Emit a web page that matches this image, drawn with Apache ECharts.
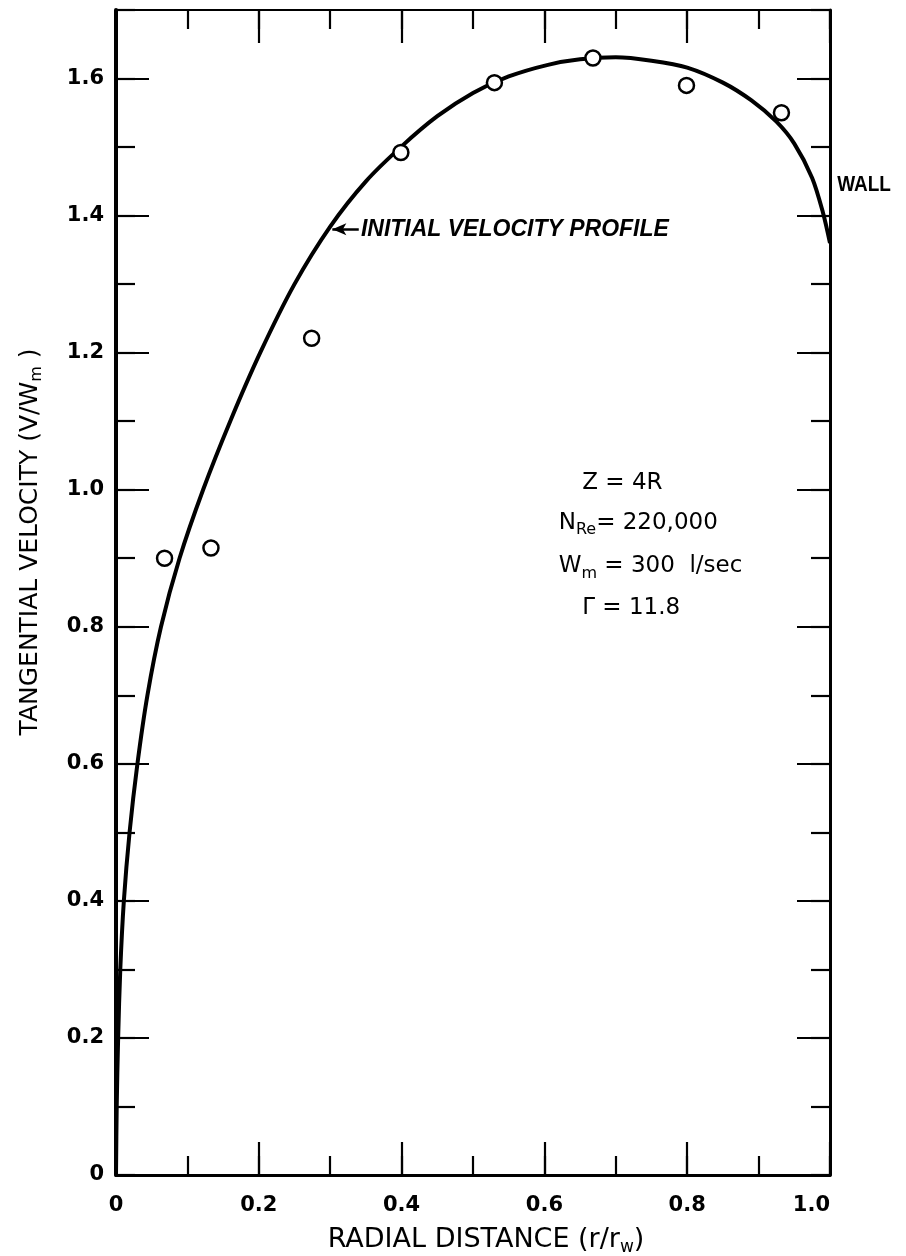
<!DOCTYPE html>
<html><head><meta charset="utf-8">
<script src="https://cdn.jsdelivr.net/npm/echarts@6/dist/echarts.min.js"></script>
<style>html,body{margin:0;padding:0;background:#fff}#c{width:906px;height:1256px}</style>
</head><body><div id="c"></div>
<script>
// ---- data ----
const xTickLabels = ['0', '0.2', '0.4', '0.6', '0.8', '1.0'];
const yTickLabels = ['0', '0.2', '0.4', '0.6', '0.8', '1.0', '1.2', '1.4', '1.6'];
const measuredR = [0.068, 0.133, 0.274, 0.399, 0.530, 0.668, 0.799, 0.932];
const measuredV = [0.900, 0.915, 1.221, 1.492, 1.594, 1.630, 1.590, 1.550];
const profileR = [0, 0.001, 0.003, 0.006, 0.011, 0.019, 0.030, 0.044, 0.063, 0.089, 0.122, 0.160, 0.202, 0.250, 0.300, 0.350, 0.400, 0.450, 0.500, 0.550, 0.605, 0.650, 0.700, 0.750, 0.800, 0.850, 0.890, 0.925, 0.950, 0.975, 0.990, 1.0];
const profileV = [0, 0.10, 0.20, 0.30, 0.40, 0.50, 0.60, 0.70, 0.80, 0.90, 1.00, 1.10, 1.20, 1.30, 1.384, 1.450, 1.501, 1.545, 1.579, 1.603, 1.620, 1.628, 1.631, 1.626, 1.616, 1.594, 1.568, 1.537, 1.505, 1.455, 1.405, 1.36];
const curveName = 'INITIAL VELOCITY PROFILE';
const paramLines = [
  ['Z = 4R', 0.653, 1.010],
  ['N{sub|Re}= 220,000', 0.620, 0.952],
  ['W{sub|m} = 300  l/sec', 0.620, 0.888],
  ['\u0393 = 11.8', 0.653, 0.828]
];

const FONT = "'DejaVu Sans', 'Liberation Sans', sans-serif";
const chart = echarts.init(document.getElementById('c'), null, {renderer: 'canvas'});

function axis(dim, pos, step, len, labels, lineW) {
  const isX = dim === 'x';
  const a = {
    type: 'value', position: pos, min: 0, max: isX ? 1 : 1.7, interval: step,
    axisLine: {show: lineW > 0, onZero: false, lineStyle: {color: '#000', width: lineW || 1}},
    axisTick: {show: true, inside: true, length: len, lineStyle: {color: '#000', width: 2.2}},
    splitLine: {show: false},
    axisLabel: {show: !!labels}
  };
  if (labels) {
    a.axisLabel = {
      show: true, color: '#000', fontFamily: FONT, fontSize: 21, fontWeight: 'bold',
      margin: isX ? 20 : 12,
      alignMaxLabel: isX ? 'right' : null,
      formatter: function (v) {
        const i = Math.round(v / 0.2);
        if (Math.abs(v - i * 0.2) > 1e-6) return '';
        return labels[i] || '';
      }
    };
  }
  return a;
}

const option = {
  backgroundColor: '#fff',
  animation: false,
  grid: {left: 116, right: 76, top: 10, bottom: 81, containLabel: false},
  xAxis: [
    axis('x', 'bottom', 0.2, 33, xTickLabels, 3),
    axis('x', 'bottom', 0.1, 19, null, 0),
    axis('x', 'top', 0.2, 33, null, 2),
    axis('x', 'top', 0.1, 19, null, 0)
  ],
  yAxis: [
    axis('y', 'left', 0.2, 33, yTickLabels, 4),
    axis('y', 'left', 0.1, 19, null, 0),
    axis('y', 'right', 0.2, 33, null, 3),
    axis('y', 'right', 0.1, 19, null, 0)
  ],
  series: [
    {
      type: 'line', name: curveName, xAxisIndex: 0, yAxisIndex: 0,
      data: profileR.map((r, i) => [r, profileV[i]]),
      smooth: 0.3, showSymbol: false, symbol: 'none', clip: true,
      lineStyle: {color: '#000', width: 4}, z: 3,
      markLine: {
        silent: true, symbol: ['none', 'arrow'], symbolSize: [9, 14],
        label: {show: false},
        lineStyle: {color: '#000', width: 2.5, type: 'solid'},
        data: [[{coord: [0.34, 1.38]}, {coord: [0.303, 1.38]}]]
      }
    },
    {
      type: 'scatter', name: 'measured', xAxisIndex: 0, yAxisIndex: 0,
      data: measuredR.map((r, i) => [r, measuredV[i]]),
      symbol: 'circle', symbolSize: 15,
      itemStyle: {color: '#fff', borderColor: '#000', borderWidth: 2.5, opacity: 1}, z: 4
    }
  ]
};
chart.setOption(option);

function px(x, y) { return chart.convertToPixel({xAxisIndex: 0, yAxisIndex: 0}, [x, y]); }
const baseStyle = {fill: '#000', fontFamily: FONT};
const g = [];
// curve label
let p = px(0.343, 1.38);
g.push({type: 'text', x: p[0], y: p[1], style: Object.assign({}, baseStyle, {
  text: curveName, fontSize: 23, fontWeight: 'bold', fontStyle: 'italic', fontFamily: "'Liberation Sans', Arial, sans-serif",
  align: 'left', verticalAlign: 'middle'})});
// wall label
p = px(1.01, 1.445);
g.push({type: 'text', x: p[0], y: p[1], scaleY: 1.2, style: Object.assign({}, baseStyle, {
  text: 'WALL', fontSize: 19, fontWeight: 'bold', fontFamily: "'Liberation Sans', Arial, sans-serif",
  align: 'left', verticalAlign: 'middle'})});
// parameter block
const rich = {sub: {fontSize: 16, fontFamily: FONT, fill: '#000', padding: [14, 0, 0, 0]}};
paramLines.forEach(function (l) {
  const q = px(l[1], l[2]);
  g.push({type: 'text', x: q[0], y: q[1], style: Object.assign({}, baseStyle, {
    text: l[0], fontSize: 23, align: 'left', verticalAlign: 'middle', rich: rich})});
});
// axis titles
g.push({type: 'text', x: 486, y: 1240, style: Object.assign({}, baseStyle, {
  text: 'RADIAL DISTANCE (r/r{sub|w})', fontSize: 27, align: 'center', verticalAlign: 'middle',
  rich: {sub: {fontSize: 17, fontFamily: FONT, fill: '#000', padding: [15, 0, 0, 0]}}})});
g.push({type: 'text', x: 30, y: 542, rotation: Math.PI / 2, style: Object.assign({}, baseStyle, {
  text: 'TANGENTIAL VELOCITY (V/W{sub|m} )', fontSize: 25, align: 'center', verticalAlign: 'middle',
  rich: {sub: {fontSize: 16, fontFamily: FONT, fill: '#000', padding: [14, 0, 0, 0]}}})});
chart.setOption({graphic: g});
</script></body></html>
